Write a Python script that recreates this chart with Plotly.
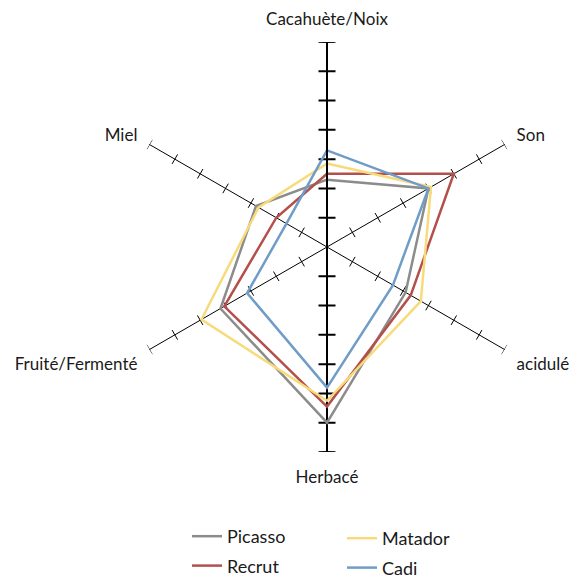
import plotly.graph_objects as go
import math

categories = ["Cacahuète/Noix", "Son", "acidulé", "Herbacé", "Fruité/Fermenté", "Miel"]
picasso = [2.3, 4.0, 3.1, 6.0, 4.2, 2.8]
recrut = [2.5, 5.0, 3.3, 5.45, 4.05, 2.0]
matador = [2.85, 4.1, 3.7, 5.25, 4.95, 2.7]
cadi = [3.3, 4.0, 2.6, 4.8, 3.15, 1.6]
tick_values = [1, 2, 3, 4, 5, 6, 7]
r_max = 7

series = [
    ("Picasso", picasso, "#8c8c8c", "legend"),
    ("Recrut", recrut, "#b3504b", "legend"),
    ("Matador", matador, "#f7db7b", "legend2"),
    ("Cadi", cadi, "#6f9dc7", "legend2"),
]

n = len(categories)
thetas = [i * 360 / n for i in range(n)]

W, H = 573, 581
cx, cy, R = 327, 247, 205
px_per_unit = R / r_max

fig = go.Figure()

# thick vertical spoke bottom part (Herbacé)
fig.add_trace(go.Scatterpolar(r=[0, r_max], theta=[180, 180], mode="lines",
                              line=dict(color="black", width=2), showlegend=False, hoverinfo="skip"))

# tick marks on each spoke
for th in thetas:
    vertical = th in (0, 180)
    half = (8.5 if vertical else 5.5) / px_per_unit
    width = 2 if vertical else 1
    rr, tt = [], []
    for k in tick_values:
        d = math.degrees(math.atan(half / k))
        rad = math.hypot(k, half)
        rr += [rad, rad, None]
        tt += [th - d, th + d, None]
    fig.add_trace(go.Scatterpolar(r=rr, theta=tt, mode="lines",
                                  line=dict(color="black", width=width),
                                  showlegend=False, hoverinfo="skip"))

for name, vals, color, lg in series:
    fig.add_trace(go.Scatterpolar(
        r=vals + [vals[0]], theta=thetas + [thetas[0]], mode="lines", name=name,
        line=dict(color=color, width=2.5), legend=lg, legendgroup=name))

fig.update_layout(
    width=W, height=H,
    margin=dict(l=0, r=0, t=0, b=0, autoexpand=False),
    paper_bgcolor="white",
    font=dict(family="Lato", size=17, color="#1a1a1a"),
    polar=dict(
        domain=dict(x=[(cx - R) / W, (cx + R) / W], y=[1 - (cy + R) / H, 1 - (cy - R) / H]),
        bgcolor="white",
        radialaxis=dict(range=[0, r_max], showgrid=False, showticklabels=False, ticks="",
                        showline=True, linecolor="black", linewidth=2, angle=90),
        angularaxis=dict(type="linear", rotation=90, direction="clockwise",
                         tickvals=thetas, ticktext=categories, showline=False,
                         showgrid=True, gridcolor="black", gridwidth=1,
                         ticks="outside", ticklen=10, tickcolor="rgba(0,0,0,0)",
                         tickfont=dict(size=17, family="Lato")),
    ),
    legend=dict(x=187 / W, y=-3 / H, xanchor="left", yanchor="bottom", font=dict(size=18),
                tracegroupgap=3, bgcolor="rgba(0,0,0,0)"),
    legend2=dict(x=342 / W, y=-5 / H, xanchor="left", yanchor="bottom", font=dict(size=18),
                 tracegroupgap=3, bgcolor="rgba(0,0,0,0)"),
)

fig.write_html("out.html", config={"displayModeBar": False},
               post_script="document.body.style.margin='0';document.body.style.overflow='hidden';")
